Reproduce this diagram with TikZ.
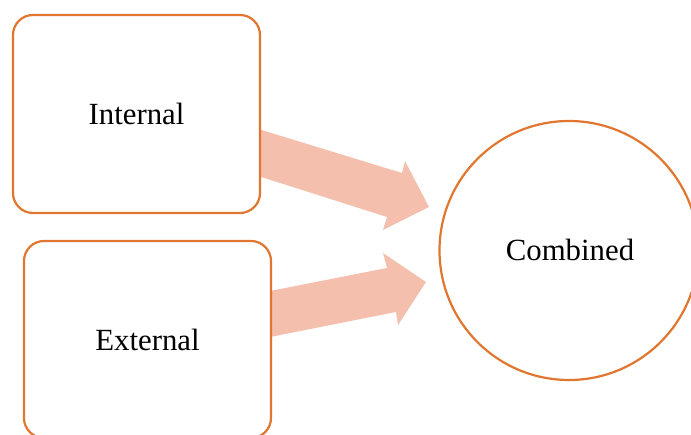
\documentclass[tikz,border=0pt]{standalone}
\usepackage{fontspec}
\setmainfont{Liberation Serif}
\definecolor{edge}{RGB}{224,118,48}
\definecolor{flow}{RGB}{244,191,172}
\begin{document}
\begin{tikzpicture}[x=1pt,y=-1pt,
  box/.style={draw=edge,line width=2.2pt,rounded corners=20pt,fill=white},
  label/.style={font=\fontsize{30.8}{36}\selectfont},
  blockarrow/.style={fill=flow,draw=none}]
\useasboundingbox (0,0) rectangle (691,435);
\clip (0,0) rectangle (691,435);
% block arrows (drawn first so the box borders cover their tails)
\fill[blockarrow] (255,128) -- (402,173) -- (405,161) -- (429,207) -- (383,230)
  -- (387,217) -- (255,175) -- cycle;
\fill[blockarrow] (265,292) -- (387,268) -- (383,253) -- (426,282) -- (398,325)
  -- (396,312) -- (265,338) -- cycle;
% source boxes
\draw[box] (13,15) rectangle (260,213);
\node[label] (internal) at (136.5,114) {Internal};
\draw[box] (24,241) rectangle (271,438);
\node[label] (external) at (147.5,340) {External};
% target circle
\draw[edge,line width=2.2pt] (569,250.5) circle[radius=129.5];
\node[label] (combined) at (570,250) {Combined};
\end{tikzpicture}
\end{document}
